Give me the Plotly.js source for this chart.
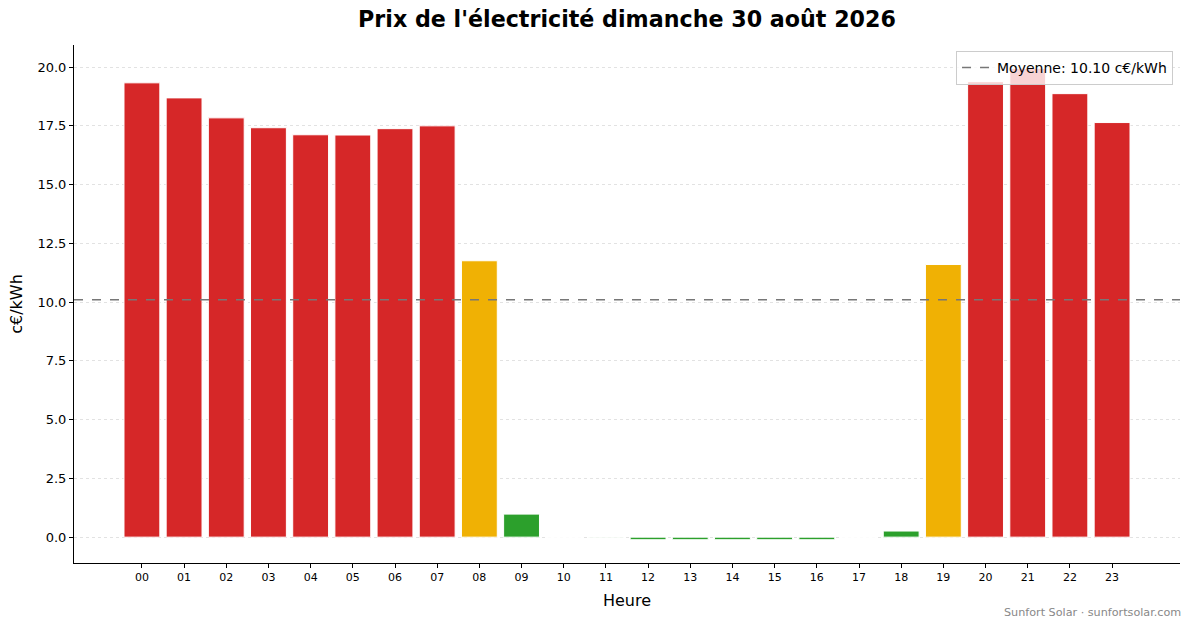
<!DOCTYPE html>
<html>
<head>
<meta charset="utf-8">
<script src="https://cdn.plot.ly/plotly-3.0.1.min.js"></script>
<style>html,body{margin:0;padding:0;background:#fff;}#chart{width:1193px;height:628px;}</style>
</head>
<body>
<div id="chart"></div>
<script>
const hours = ["00","01","02","03","04","05","06","07","08","09","10","11","12","13","14","15","16","17","18","19","20","21","22","23"];
const prices = [19.33,18.69,17.84,17.42,17.12,17.11,17.38,17.50,11.76,0.98,0.00,-0.04,-0.11,-0.11,-0.11,-0.11,-0.11,0.00,0.26,11.60,19.38,19.95,18.87,17.64];
const titleText = "Prix de l'électricité dimanche 30 août 2026";
const footerText = "Sunfort Solar · sunfortsolar.com";

const mean = 10.10;
function colorFor(v){
  if (v >= 15) return '#d62728';
  if (v >= 5) return '#f0b104';
  if (v > -0.05 && v < 0) return 'rgba(44,160,44,0.25)';
  return '#2ca02c';
}
const colors = prices.map(colorFor);
const font = "DejaVu Sans, sans-serif";

const trace = {
  type: 'bar', x: hours, y: prices,
  marker: {color: colors, line: {color: '#ffffff', width: 1}},
  width: 0.85, showlegend: false, hoverinfo: 'x+y'
};

const layout = {
  width: 1193, height: 628,
  margin: {l: 74, r: 13, t: 45, b: 65},
  paper_bgcolor: '#fff', plot_bgcolor: '#fff',
  font: {family: font, color: '#000'},
  title: {text: '<b>' + titleText + '</b>', font: {family: font, size: 22.2, color: '#000'}, x: 0.5, xref: 'paper', y: 0.97, yref: 'container', yanchor: 'middle'},
  xaxis: {
    type: 'category', range: [-1.61, 24.61],
    showline: true, linecolor: '#000', linewidth: 1, mirror: false,
    ticks: 'outside', ticklen: 4, tickcolor: '#000', tickwidth: 1,
    tickfont: {family: font, size: 11, color: '#000'},
    showgrid: false, zeroline: false,
    title: {text: 'Heure', font: {family: font, size: 16, color: '#000'}, standoff: 11}
  },
  yaxis: {
    range: [-1.1, 20.94],
    tickvals: [0,2.5,5,7.5,10,12.5,15,17.5,20],
    ticktext: ['0.0','2.5','5.0','7.5','10.0','12.5','15.0','17.5','20.0'],
    showline: true, linecolor: '#000', linewidth: 1,
    ticks: 'outside', ticklen: 4, tickcolor: '#000', tickwidth: 1,
    tickfont: {family: font, size: 13, color: '#000'},
    showgrid: true, gridcolor: '#e2e2e2', griddash: 'dot', gridwidth: 1,
    zeroline: false,
    title: {text: 'c€/kWh', font: {family: font, size: 16, color: '#000'}, standoff: 10}
  },
  shapes: [{
    type: 'line', xref: 'paper', x0: 0, x1: 1, yref: 'y', y0: mean, y1: mean,
    line: {color: '#777777', width: 1.5, dash: 'dash'},
    showlegend: true, name: 'Moyenne: ' + mean.toFixed(2) + ' c€/kWh'
  }],
  showlegend: true,
  legend: {
    x: 0.9937, xanchor: 'right', y: 0.9885, yanchor: 'top',
    bgcolor: 'rgba(255,255,255,0.8)', bordercolor: '#cccccc', borderwidth: 1,
    font: {family: font, size: 14, color: '#000'}, itemwidth: 30
  },
  annotations: [{
    text: footerText, xref: 'paper', yref: 'paper', x: 1.0027, y: -0.0965,
    xanchor: 'right', yanchor: 'middle', showarrow: false,
    font: {family: font, size: 11.2, color: '#888888'}
  }]
};

Plotly.newPlot('chart', [trace], layout, {displayModeBar: false, staticPlot: true});
</script>
</body>
</html>
